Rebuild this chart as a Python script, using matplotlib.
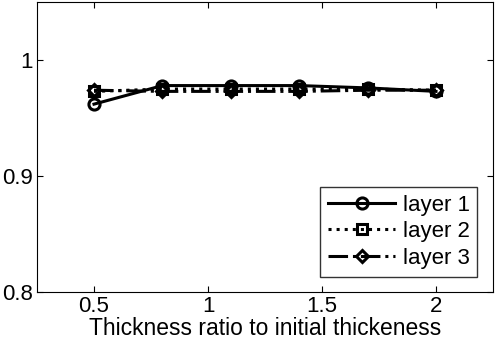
import matplotlib.pyplot as plt
import numpy as np

plt.rcParams['font.family'] = ['Liberation Sans', 'DejaVu Sans']

ratio = [0.5, 0.8, 1.1, 1.4, 1.7, 2.0]
layer1 = [0.962, 0.978, 0.978, 0.978, 0.976, 0.973]
layer2 = [0.973, 0.975, 0.975, 0.975, 0.975, 0.974]
layer3 = [0.974, 0.973, 0.973, 0.973, 0.974, 0.974]

fig = plt.figure(figsize=(5, 3.42), dpi=100)
ax = fig.add_axes([0.074, 0.146, 0.912, 0.848])

ax.plot(ratio, layer1, 'k-', marker='o', lw=2.2, ms=8, mfc='none', mew=2.2, label='layer 1')
ax.plot(ratio, layer2, 'k:', marker='s', lw=2.2, ms=7, mfc='none', mew=2.2, label='layer 2')
ax.plot(ratio, layer3, 'k-.', marker='D', lw=2.2, ms=6.5, mfc='none', mew=2.2, label='layer 3')

ax.set_xlim(0.25, 2.25)
ax.set_ylim(0.8, 1.05)
ax.set_xticks([0.5, 1, 1.5, 2])
ax.set_xticklabels(['0.5', '1', '1.5', '2'])
ax.set_yticks([0.8, 0.9, 1])
ax.set_yticklabels(['0.8', '0.9', '1'])
ax.tick_params(direction='in', top=True, right=True, labelsize=16, length=4, pad=3)
ax.set_xlabel('Thickness ratio to initial thickeness', fontsize=16.5, labelpad=0)

leg = ax.legend(loc='lower right', fontsize=16, frameon=True, fancybox=False,
                edgecolor='k', handlelength=3, handletextpad=0.35,
                labelspacing=0.25, borderpad=0.35, borderaxespad=0.7)
leg.get_frame().set_linewidth(1)

plt.savefig('out.png', dpi=100)
